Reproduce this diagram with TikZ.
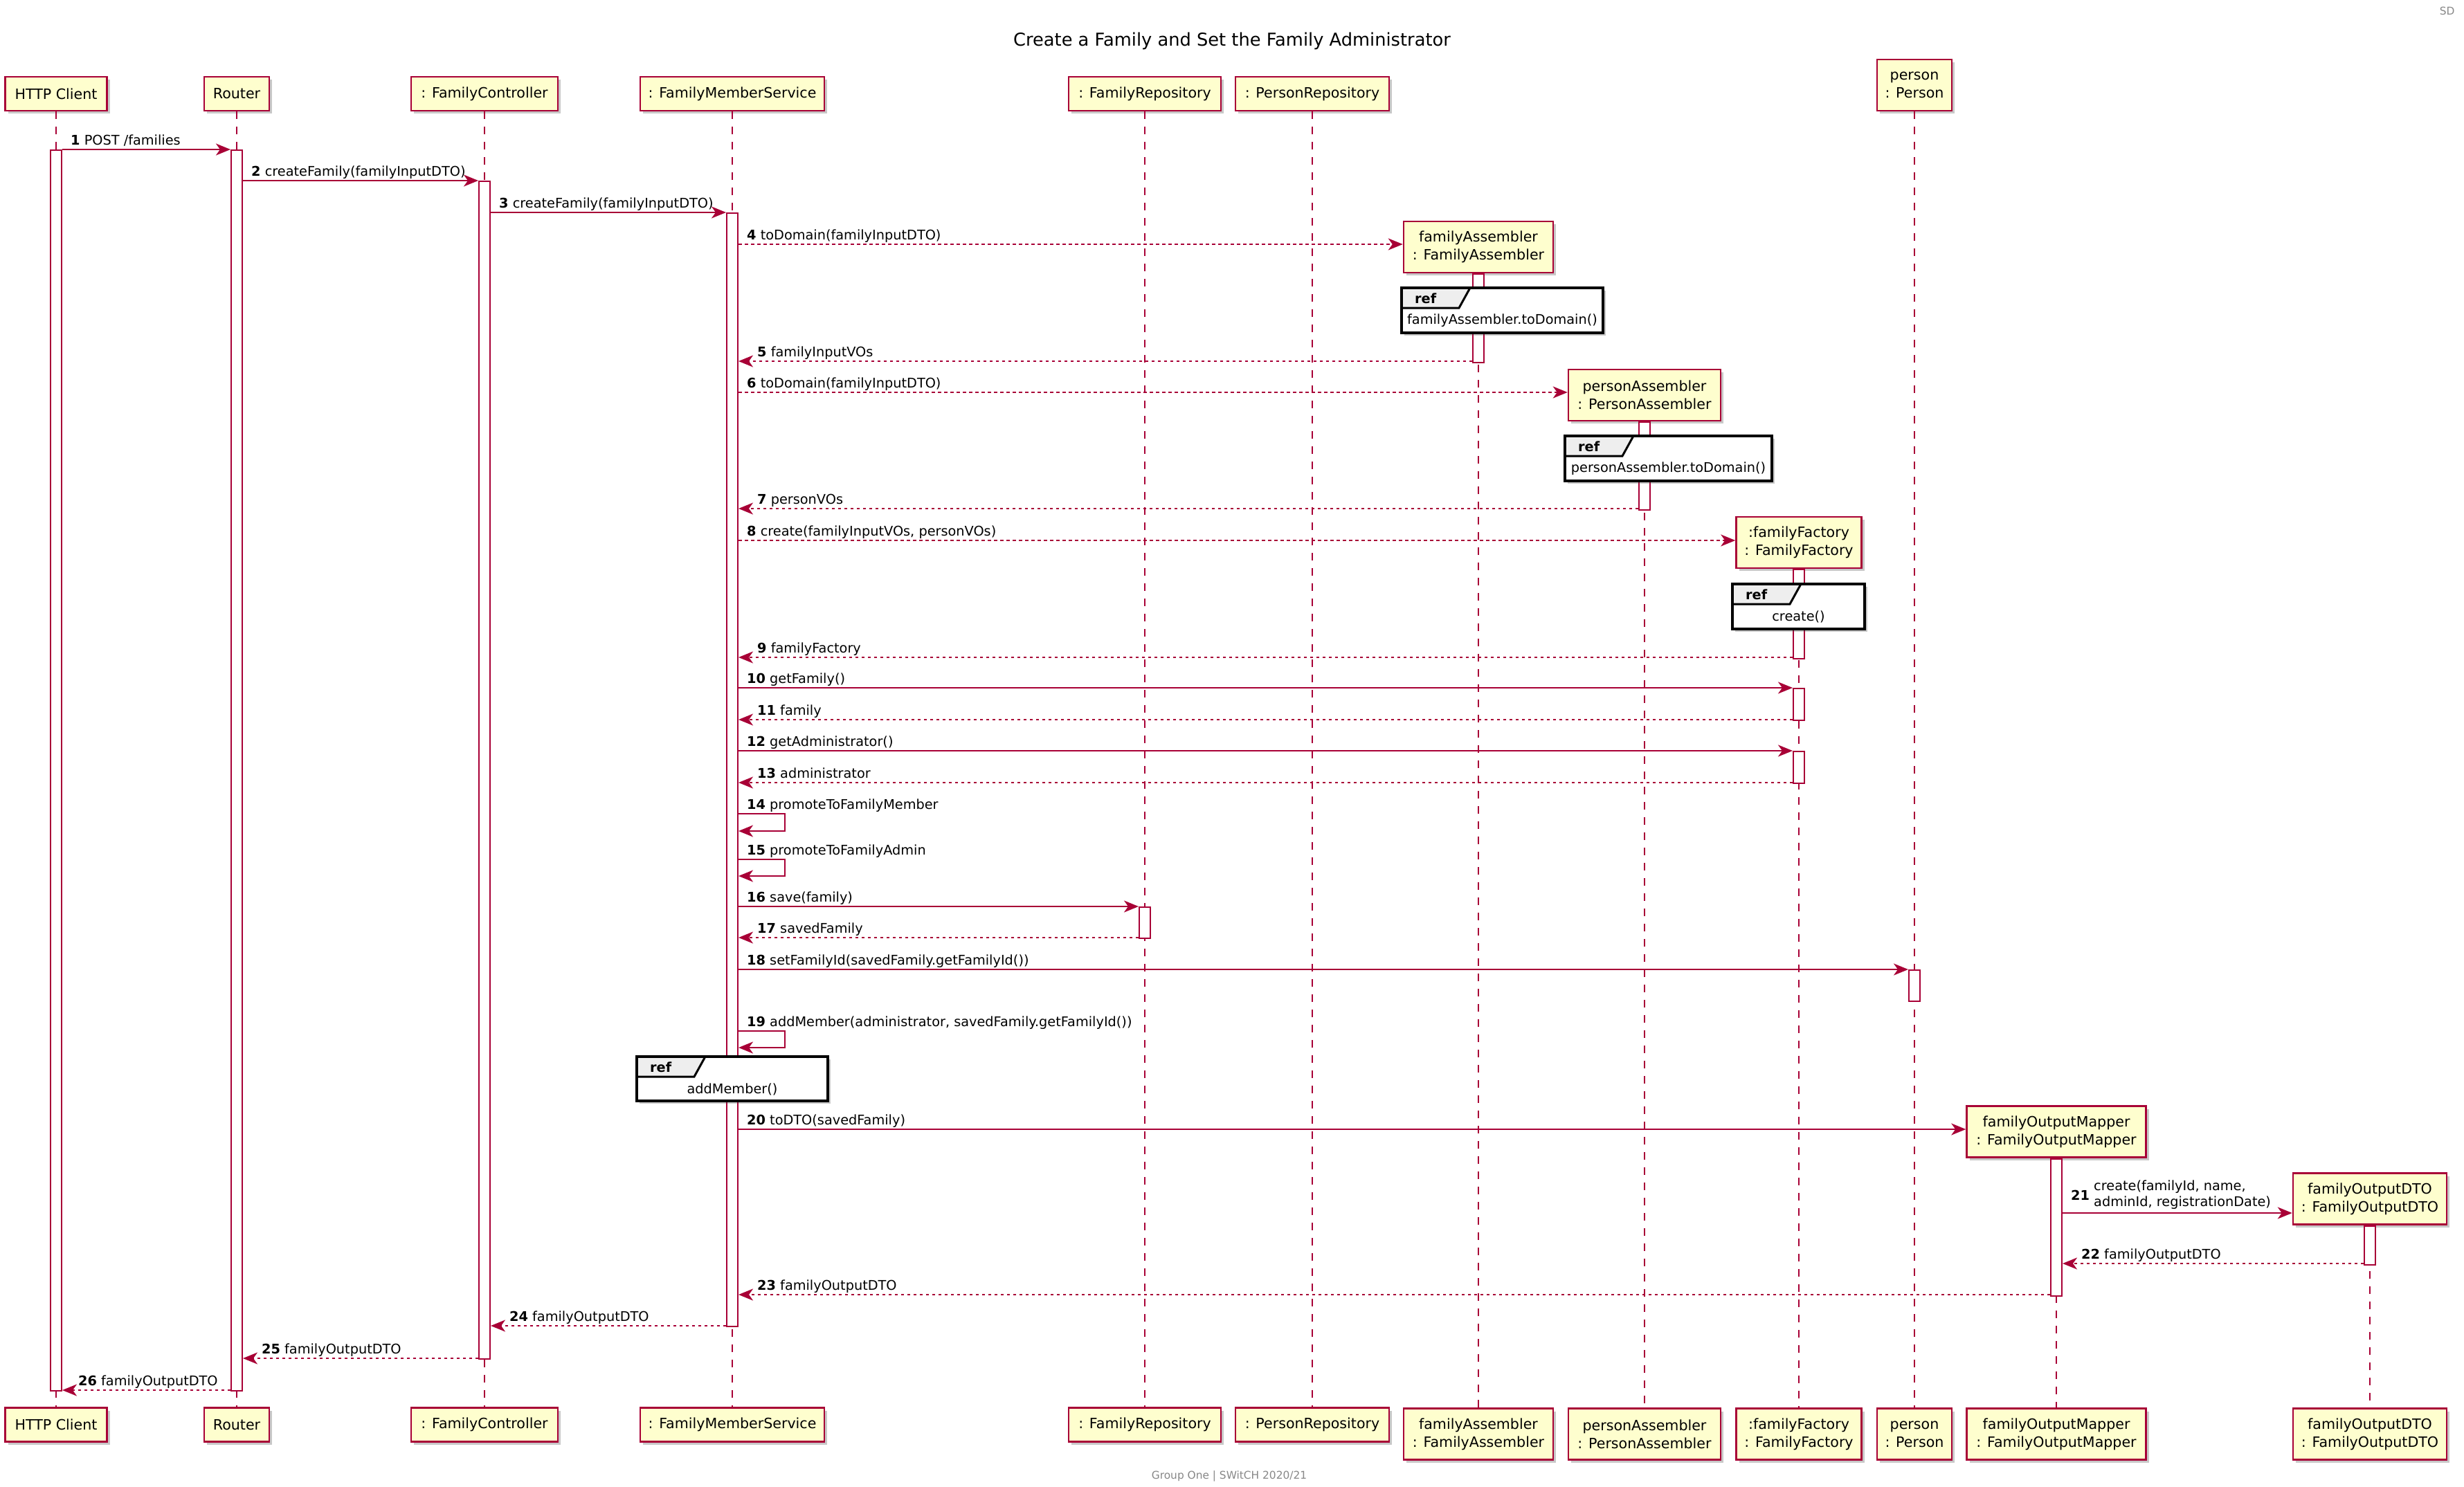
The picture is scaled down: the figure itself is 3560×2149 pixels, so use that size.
\documentclass[tikz,border=0pt]{standalone}
\usepackage{fontspec}
\setmainfont{DejaVu Sans}
\usetikzlibrary{arrows.meta,shadows}

\definecolor{umlred}{HTML}{A80036}
\definecolor{partfill}{HTML}{FEFECE}
\definecolor{tabgray}{HTML}{EEEEEE}
\definecolor{footgray}{HTML}{888888}

\newcommand\msgf{\fontsize{19.3}{23.3}\selectfont}
\newcommand\partf{\fontsize{20.6}{26}\selectfont}
\newcommand\titlef{\fontsize{25.7}{30}\selectfont}
\newcommand\footf{\fontsize{15.4}{18}\selectfont}

\tikzset{
  part/.style={rectangle, draw=umlred, fill=partfill, line width=2.5pt,
    inner sep=0pt, align=center, font=\partf,
    drop shadow={shadow xshift=4pt, shadow yshift=-4pt, opacity=0.3, fill=black!70}},
  single/.style={minimum height=49pt},
  double/.style={minimum height=74pt},
  life/.style={draw=umlred, line width=1.4pt, dash pattern=on 11pt off 11pt},
  act/.style={rectangle, draw=umlred, fill=white, line width=2pt, minimum width=16pt,
    inner sep=0pt, anchor=north},
  msg/.style={draw=umlred, line width=2.2pt, -{Stealth[length=21pt, width=17pt, inset=6pt]}},
  ret/.style={msg, dash pattern=on 4.5pt off 4.5pt},
  lbl/.style={anchor=base west, font=\msgf, inner sep=0pt},
  refbox/.style={rectangle, draw=black, fill=white, line width=4pt, inner sep=0pt,
    outer sep=0pt, anchor=north west,
    drop shadow={shadow xshift=4pt, shadow yshift=-4pt, opacity=0.3, fill=black!70}},
  reftab/.style={fill=tabgray, draw=black, line width=3pt, line join=miter},
}

\begin{document}
\begin{tikzpicture}[x=1pt, y=-1pt]
\fill[white] (0,0) rectangle (3560,2149);
\useasboundingbox (0,0) rectangle (3560,2149);

% title, header and footer
\node[font=\titlef] (title) at (1780,59) {Create a Family and Set the Family Administrator};
\node[font=\footf, text=footgray, anchor=east] (hdr) at (3550,16) {SD};
\node[font=\footf, text=footgray] (foot) at (1776,2133) {Group One | SWitCH 2020/21};

% participants (top)
\node[part, single, minimum width=147pt] (hcT) at (81,135.5) {HTTP Client};
\node[part, single, minimum width=94pt] (rtT) at (342,135.5) {Router};
\node[part, single, minimum width=212pt] (fcT) at (700,135.5) {: FamilyController};
\node[part, single, minimum width=266pt] (fmsT) at (1058,135.5) {: FamilyMemberService};
\node[part, single, minimum width=220pt] (frT) at (1654,135.5) {: FamilyRepository};
\node[part, single, minimum width=222pt] (prT) at (1896,135.5) {: PersonRepository};
\node[part, double, minimum width=108pt] (psT) at (2766,123) {person\\: Person};
% participants created during the interaction
\node[part, double, minimum width=216pt] (faT) at (2136,357) {familyAssembler\\: FamilyAssembler};
\node[part, double, minimum width=220pt] (paT) at (2376,571) {personAssembler\\: PersonAssembler};
\node[part, double, minimum width=181pt] (ffT) at (2599,784) {:familyFactory\\: FamilyFactory};
\node[part, double, minimum width=259pt] (fomT) at (2971,1635.5) {familyOutputMapper\\: FamilyOutputMapper};
\node[part, double, minimum width=222pt] (dtoT) at (3424,1732.5) {familyOutputDTO\\: FamilyOutputDTO};

% participants (bottom)
\node[part, single, minimum width=147pt] (hcB) at (81,2059) {HTTP Client};
\node[part, single, minimum width=94pt] (rtB) at (342,2059) {Router};
\node[part, single, minimum width=212pt] (fcB) at (700,2059) {: FamilyController};
\node[part, single, minimum width=266pt] (fmsB) at (1058,2059) {: FamilyMemberService};
\node[part, single, minimum width=220pt] (frB) at (1654,2059) {: FamilyRepository};
\node[part, single, minimum width=222pt] (prB) at (1896,2059) {: PersonRepository};
\node[part, double, minimum width=216pt] (faB) at (2136,2072.5) {familyAssembler\\: FamilyAssembler};
\node[part, double, minimum width=220pt] (paB) at (2376,2072.5) {personAssembler\\: PersonAssembler};
\node[part, double, minimum width=181pt] (ffB) at (2599,2072.5) {:familyFactory\\: FamilyFactory};
\node[part, double, minimum width=108pt] (psB) at (2766,2072.5) {person\\: Person};
\node[part, double, minimum width=259pt] (fomB) at (2971,2072.5) {familyOutputMapper\\: FamilyOutputMapper};
\node[part, double, minimum width=222pt] (dtoB) at (3424,2072.5) {familyOutputDTO\\: FamilyOutputDTO};

% lifelines
\foreach \p in {hc,rt,fc,fms,fr,pr,fa,pa,ff,ps,fom,dto}
  \draw[life] (\p T.south) -- (\p B.north);

% activation bars
\node[act, minimum height=1793pt] (hcA) at (hcT.south |- 0,216) {};
\node[act, minimum height=1793pt] (rtA) at (rtT.south |- 0,216) {};
\node[act, minimum height=1702pt] (fcA) at (fcT.south |- 0,261) {};
\node[act, minimum height=1609pt] (fmsA) at (fmsT.south |- 0,307) {};
\node[act, minimum height=128pt] (faA) at (faT.south) {};
\node[act, minimum height=127pt] (paA) at (paT.south) {};
\node[act, minimum height=129pt] (ffA) at (ffT.south) {};
\node[act, minimum height=46pt] (ffA2) at (ffT.south |- 0,994) {};
\node[act, minimum height=46pt] (ffA3) at (ffT.south |- 0,1085) {};
\node[act, minimum height=45pt] (frA) at (frT.south |- 0,1310) {};
\node[act, minimum height=45pt] (psA) at (psT.south |- 0,1401) {};
\node[act, minimum height=198pt] (fomA) at (fomT.south) {};
\node[act, minimum height=56pt] (dtoA) at (dtoT.south) {};

% messages
\draw[msg] (hcA.east |- 0,216) -- (rtA.west |- 0,216);
\node[lbl] at ([xshift=12pt]hcA.east |- 0,209) {\textbf{1} POST /families};
\draw[msg] (rtA.east |- 0,261) -- (fcA.west |- 0,261);
\node[lbl] at ([xshift=12pt]rtA.east |- 0,254) {\textbf{2} createFamily(familyInputDTO)};
\draw[msg] (fcA.east |- 0,307) -- (fmsA.west |- 0,307);
\node[lbl] at ([xshift=12pt]fcA.east |- 0,300) {\textbf{3} createFamily(familyInputDTO)};
\draw[ret] (fmsA.east |- 0,353) -- (faT.west |- 0,353);
\node[lbl] at ([xshift=12pt]fmsA.east |- 0,346) {\textbf{4} toDomain(familyInputDTO)};
\draw[ret] (faA.west |- 0,522) -- (fmsA.east |- 0,522);
\node[lbl] at ([xshift=27pt]fmsA.east |- 0,515) {\textbf{5} familyInputVOs};
\draw[ret] (fmsA.east |- 0,567) -- (paT.west |- 0,567);
\node[lbl] at ([xshift=12pt]fmsA.east |- 0,560) {\textbf{6} toDomain(familyInputDTO)};
\draw[ret] (paA.west |- 0,735) -- (fmsA.east |- 0,735);
\node[lbl] at ([xshift=27pt]fmsA.east |- 0,728) {\textbf{7} personVOs};
\draw[ret] (fmsA.east |- 0,781) -- (ffT.west |- 0,781);
\node[lbl] at ([xshift=12pt]fmsA.east |- 0,774) {\textbf{8} create(familyInputVOs, personVOs)};
\draw[ret] (ffA.west |- 0,950) -- (fmsA.east |- 0,950);
\node[lbl] at ([xshift=27pt]fmsA.east |- 0,943) {\textbf{9} familyFactory};
\draw[msg] (fmsA.east |- 0,994) -- (ffA2.west |- 0,994);
\node[lbl] at ([xshift=12pt]fmsA.east |- 0,987) {\textbf{10} getFamily()};
\draw[ret] (ffA2.west |- 0,1040) -- (fmsA.east |- 0,1040);
\node[lbl] at ([xshift=27pt]fmsA.east |- 0,1033) {\textbf{11} family};
\draw[msg] (fmsA.east |- 0,1085) -- (ffA3.west |- 0,1085);
\node[lbl] at ([xshift=12pt]fmsA.east |- 0,1078) {\textbf{12} getAdministrator()};
\draw[ret] (ffA3.west |- 0,1131) -- (fmsA.east |- 0,1131);
\node[lbl] at ([xshift=27pt]fmsA.east |- 0,1124) {\textbf{13} administrator};
\draw[msg] (fmsA.east |- 0,1176) -- ++(67,0) -- ++(0,25) -- (fmsA.east |- 0,1201);
\node[lbl] at ([xshift=12pt]fmsA.east |- 0,1169) {\textbf{14} promoteToFamilyMember};
\draw[msg] (fmsA.east |- 0,1242) -- ++(67,0) -- ++(0,24) -- (fmsA.east |- 0,1266);
\node[lbl] at ([xshift=12pt]fmsA.east |- 0,1235) {\textbf{15} promoteToFamilyAdmin};
\draw[msg] (fmsA.east |- 0,1310) -- (frA.west |- 0,1310);
\node[lbl] at ([xshift=12pt]fmsA.east |- 0,1303) {\textbf{16} save(family)};
\draw[ret] (frA.west |- 0,1355) -- (fmsA.east |- 0,1355);
\node[lbl] at ([xshift=27pt]fmsA.east |- 0,1348) {\textbf{17} savedFamily};
\draw[msg] (fmsA.east |- 0,1401) -- (psA.west |- 0,1401);
\node[lbl] at ([xshift=12pt]fmsA.east |- 0,1394) {\textbf{18} setFamilyId(savedFamily.getFamilyId())};
\draw[msg] (fmsA.east |- 0,1490) -- ++(67,0) -- ++(0,24) -- (fmsA.east |- 0,1514);
\node[lbl] at ([xshift=12pt]fmsA.east |- 0,1483) {\textbf{19} addMember(administrator, savedFamily.getFamilyId())};
\draw[msg] (fmsA.east |- 0,1632) -- (fomT.west |- 0,1632);
\node[lbl] at ([xshift=12pt]fmsA.east |- 0,1625) {\textbf{20} toDTO(savedFamily)};
\draw[msg] (fomA.east |- 0,1753) -- (dtoT.west |- 0,1753);
\node[lbl, anchor=west] at ([xshift=12pt]fomA.east |- 0,1727) {\textbf{21}};
\node[lbl, anchor=west, align=left] at ([xshift=45pt]fomA.east |- 0,1727) {create(familyId, name,\\adminId, registrationDate)};
\draw[ret] (dtoA.west |- 0,1826) -- (fomA.east |- 0,1826);
\node[lbl] at ([xshift=27pt]fomA.east |- 0,1819) {\textbf{22} familyOutputDTO};
\draw[ret] (fomA.west |- 0,1871) -- (fmsA.east |- 0,1871);
\node[lbl] at ([xshift=27pt]fmsA.east |- 0,1864) {\textbf{23} familyOutputDTO};
\draw[ret] (fmsA.west |- 0,1916) -- (fcA.east |- 0,1916);
\node[lbl] at ([xshift=27pt]fcA.east |- 0,1909) {\textbf{24} familyOutputDTO};
\draw[ret] (fcA.west |- 0,1963) -- (rtA.east |- 0,1963);
\node[lbl] at ([xshift=27pt]rtA.east |- 0,1956) {\textbf{25} familyOutputDTO};
\draw[ret] (rtA.west |- 0,2009) -- (hcA.east |- 0,2009);
\node[lbl] at ([xshift=23pt]hcA.east |- 0,2002) {\textbf{26} familyOutputDTO};

% interaction references
\foreach \r/\x/\y/\w/\h/\t in {
    refA/2025/416/291/65/familyAssembler.toDomain(),
    refB/2261/630/299/65/personAssembler.toDomain(),
    refC/2503/844/191/65/create(),
    refD/920/1527/276/64/addMember()} {
  \node[refbox, minimum width=\w pt, minimum height=\h pt] (\r) at (\x,\y) {};
  \filldraw[reftab] (\r.north west) -- ++(99,0) -- ++(-16,29) -- ++(-83,0) -- cycle;
  \draw[line width=4pt] (\r.north west) rectangle (\r.south east);
  \node[font=\msgf\bfseries, anchor=west, inner sep=0pt] at ([shift={(19,15)}]\r.north west) {ref};
  \node[font=\msgf, inner sep=0pt] at ([shift={(0,47)}]\r.north) {\t};
}
\end{tikzpicture}
\end{document}
